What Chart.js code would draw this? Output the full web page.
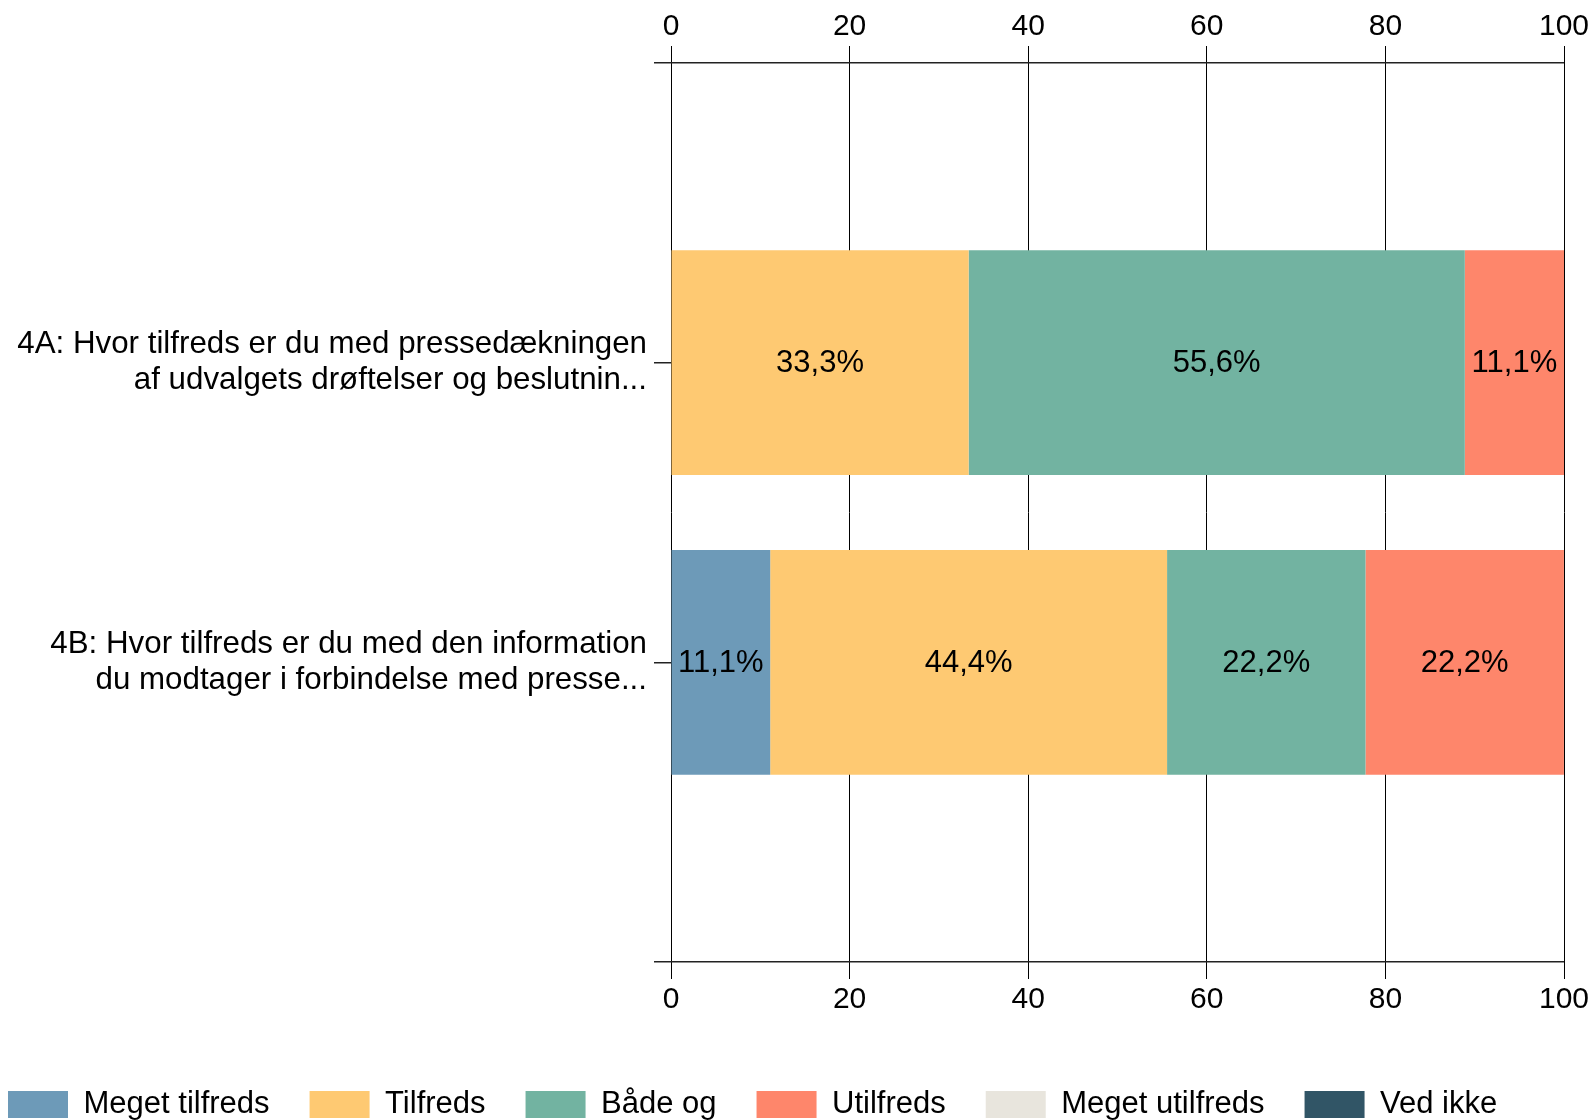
<!DOCTYPE html>
<html>
<head>
<meta charset="utf-8">
<script src="https://cdn.jsdelivr.net/npm/chart.js@4"></script>
<style>
  html, body { margin: 0; padding: 0; background: #fff; overflow: hidden; width: 1595px; height: 1120px; }
  #chart { position: absolute; left: -32px; top: 0; }
</style>
</head>
<body>
<canvas id="chart" width="1627" height="1130"></canvas>
<script>
const questions = [
   ['4A: Hvor tilfreds er du med pressedækningen', 'af udvalgets drøftelser og beslutnin...'],
   ['4B: Hvor tilfreds er du med den information', 'du modtager i forbindelse med presse...']
]
const answers = ['Meget tilfreds', 'Tilfreds', 'Både og', 'Utilfreds', 'Meget utilfreds', 'Ved ikke']
const colors = ['#6d9ab8', '#fec972', '#72b3a1', '#fe866b', '#e8e5dd', '#315566']

// percent per answer, one entry per question (4A, 4B)
const megetTilfreds = [0, 11.11]
const tilfreds = [33.33, 44.44]
const baadeOg = [55.56, 22.22]
const utilfreds = [11.11, 22.22]
const megetUtilfreds = [0, 0]
const vedIkke = [0, 0]

const xTicks = [0, 20, 40, 60, 80, 100]

const series = [megetTilfreds, tilfreds, baadeOg, utilfreds, megetUtilfreds, vedIkke]
const family = 'Liberation Sans, Arial, sans-serif'
const questionFont = { family: family, size: 31.3, lineHeight: 1.14 }
const legendFont = { family: family, size: 31 }
const tickFont = { family: family, size: 30 }

// empty slots above and below so the axis runs one step past each bar
const labels = [''].concat(questions, [''])

const datasets = series.map((values, i) => ({
   label: answers[i],
   data: [null].concat(values, [null]),
   backgroundColor: colors[i],
   borderWidth: 0,
   barPercentage: 0.75,
   categoryPercentage: 1
}))

const valueLabels = {
   id: 'valueLabels',
   afterDatasetsDraw(chart) {
      const ctx = chart.ctx
      ctx.save()
      ctx.font = '31px ' + family
      ctx.fillStyle = '#000'
      ctx.textAlign = 'center'
      ctx.textBaseline = 'middle'
      chart.data.datasets.forEach((ds, i) => {
         chart.getDatasetMeta(i).data.forEach((bar, j) => {
            const v = ds.data[j]
            if (!v) return
            const p = bar.getCenterPoint()
            ctx.fillText(v.toFixed(1).replace('.', ',') + '%', p.x, p.y + 1)
         })
      })
      ctx.restore()
   }
}

const tickCount = labels.length

new Chart(document.getElementById('chart'), {
   type: 'bar',
   data: { labels: labels, datasets: datasets },
   plugins: [valueLabels],
   options: {
      indexAxis: 'y',
      responsive: false,
      animation: false,
      layout: { padding: { top: 8, right: 31, left: 0, bottom: 0 } },
      scales: {
         x: {
            position: 'top',
            stacked: true,
            min: 0,
            max: 100,
            afterBuildTicks: s => { s.ticks = xTicks.map(v => ({ value: v })) },
            ticks: { color: '#000', font: tickFont, padding: 1, maxRotation: 0 },
            grid: { color: '#000', lineWidth: 1, tickLength: 17 },
            border: { display: false }
         },
         x2: {
            position: 'bottom',
            min: 0,
            max: 100,
            afterBuildTicks: s => { s.ticks = xTicks.map(v => ({ value: v })) },
            ticks: { color: '#000', font: tickFont, padding: 3, maxRotation: 0 },
            grid: { drawOnChartArea: false, color: '#000', lineWidth: 1, tickLength: 17 },
            border: { display: false },
            afterFit: s => { s.height = 87 }
         },
         y: {
            stacked: true,
            offset: false,
            ticks: { color: '#000', font: questionFont, padding: 7, autoSkip: false },
            grid: {
               offset: false,
               tickLength: 17,
               lineWidth: 1.5,
               tickColor: '#222',
               color: c => (c.index === 0 || c.index === tickCount - 1) ? '#222' : 'rgba(0,0,0,0)'
            },
            border: { display: false },
            afterFit: s => { s.width = 703 }
         }
      },
      plugins: {
         tooltip: { enabled: false },
         legend: {
            position: 'bottom',
            align: 'start',
            labels: { color: '#000', font: legendFont, boxWidth: 60, boxHeight: 27, padding: 40 }
         }
      }
   }
})
</script>
</body>
</html>
